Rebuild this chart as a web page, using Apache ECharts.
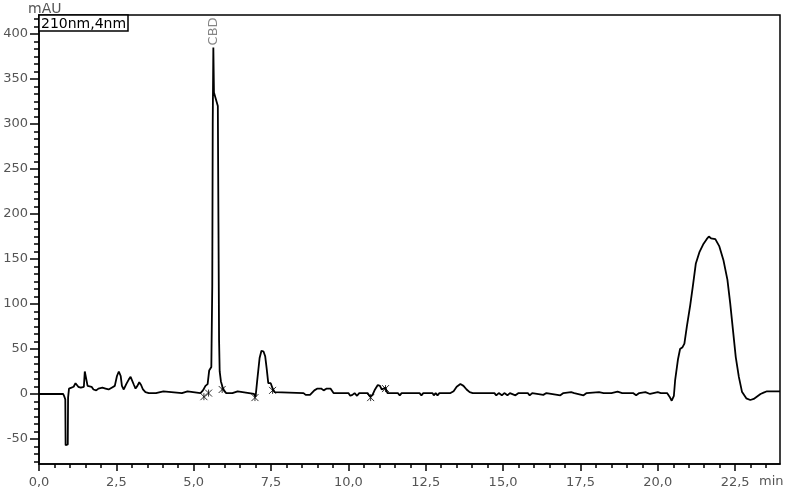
<!DOCTYPE html>
<html><head><meta charset="utf-8">
<script src="https://cdn.jsdelivr.net/npm/echarts@6/dist/echarts.min.js"></script>
<style>html,body{margin:0;padding:0;background:#fff}#c{width:785px;height:493px}</style>
</head><body><div id="c"></div>
<script>
// retention time (min)
const timeMin = [0,0.78,0.82,0.85,0.86,0.90,0.93,0.94,0.97,1.05,1.12,1.18,1.22,1.27,1.35,1.45,1.48,1.54,1.57,1.63,1.70,1.76,1.85,1.92,1.98,2.05,2.15,2.25,2.35,2.45,2.52,2.58,2.64,2.68,2.74,2.82,2.90,2.96,3.02,3.07,3.12,3.18,3.24,3.30,3.36,3.44,3.55,3.78,3.84,4.02,4.06,4.62,4.68,4.80,4.85,5.22,5.30,5.38,5.45,5.50,5.57,5.60,5.615,5.635,5.655,5.78,5.80,5.82,5.84,5.88,5.93,5.98,6.05,6.25,6.30,6.42,6.47,6.95,7.00,7.05,7.13,7.19,7.26,7.31,7.36,7.41,7.49,7.55,7.62,7.68,8.55,8.62,8.68,8.76,8.82,8.90,9.00,9.12,9.20,9.30,9.42,9.52,10.00,10.06,10.13,10.20,10.28,10.35,10.62,10.70,10.78,10.86,10.95,11.02,11.08,11.13,11.20,11.26,11.60,11.66,11.72,12.30,12.36,12.42,12.72,12.76,12.82,12.88,12.94,13.30,13.40,13.50,13.62,13.72,13.82,13.92,14.02,14.72,14.78,14.86,14.96,15.04,15.14,15.22,15.40,15.50,15.80,15.86,15.94,16.30,16.40,16.85,16.95,17.20,17.30,17.60,17.70,18.10,18.25,18.50,18.70,18.85,19.20,19.30,19.40,19.60,19.75,20.00,20.10,20.30,20.38,20.45,20.52,20.56,20.65,20.72,20.80,20.86,20.94,21.05,21.13,21.23,21.35,21.48,21.58,21.65,21.72,21.78,21.86,21.99,22.12,22.25,22.34,22.43,22.52,22.62,22.72,22.86,22.99,23.10,23.20,23.32,23.42,23.53,23.95];
// detector signal (mAU)
const signalMAU = [0,0,-3,-6,-57,-58,-56,-4,6,7,8,12,13,8,7,8,25,27,9,7,8,5,4,6,4,7,6,5,7,9,20,25,20,9,5,11,16,19,17,10,6,9,13,10,5,2,1,1,3,3,1,1,3,3,1,1,4,9,11,26,30,120,300,385,335,320,190,60,25,14,8,4,1,1,3,3,1,0,-3,14,40,48,47,42,28,12,12,6,2,1,1,-1,1,-1,1,4,6,6,4,6,6,1,1,-2,-1,1,-2,1,1,-3,-1,5,10,9,5,7,7,1,1,-1.5,1,1,-1.5,1,1,-1.5,1,-1.5,1,1,3,8,11,9,5,2,1,1,-1.5,1,-1.5,1,-1.5,1,-1.5,1,1,-1.5,1,-1,1,-1.5,1,2,1,-1.5,1,2,1,1,2.5,1,1,-1.5,1,2,0,2,1,1,-3,-7.5,-2,15,38,50,52,56,75,99,119,145,158,167,172,175,173,175,172,164,149,127,101,71,41,19,2.6,-4.8,-6.7,-5.5,-3,0,1.5,3,3];
// integration start/end markers
const markerTimes = [5.33, 5.48, 5.92, 6.98, 7.55, 10.72, 11.20];
const markerValues = [-3, 1, 5, -4, 4, -4, 6];
const xTickValues = [0,2.5,5,7.5,10,12.5,15,17.5,20,22.5];
const yTickValues = [-50,0,50,100,150,200,250,300,350,400];
const peakNames = ['CBD'];
const peakTimes = [5.635];
const peakHeights = [385];
const channelLabel = '210nm,4nm';
const yUnit = 'mAU';
const xUnit = 'min';

const xMinor = []; for (let i = 0; i <= 47; i++) xMinor.push(i * 0.5);
const yMinor = []; for (let i = -9; i <= 50; i++) yMinor.push(i * 50 / 6);

const lineData = timeMin.map((t, i) => [t, signalMAU[i]]);
const FONT = 'DejaVu Sans';
const X_MIN = 0, X_MAX = 23.95, Y_MIN = -77.8, Y_MAX = 421.1;

const chart = echarts.init(document.getElementById('c'), null, {renderer: 'canvas'});
const axisLineStyle = {show: true, onZero: false, lineStyle: {color: '#000', width: 1.5}};
chart.setOption({
  animation: false,
  backgroundColor: '#fff',
  grid: {left: 39, right: 5, top: 15, bottom: 29, show: true, borderColor: '#000', borderWidth: 1.5, containLabel: false},
  xAxis: [
    {type: 'value', min: X_MIN, max: X_MAX, position: 'bottom',
     axisLine: axisLineStyle, splitLine: {show: false},
     axisTick: {show: true, customValues: xTickValues, length: 7, lineStyle: {color: '#000', width: 1.5}},
     axisLabel: {show: true, customValues: xTickValues, margin: 12, color: '#555', fontFamily: FONT, fontSize: 13,
       formatter: v => v.toFixed(1).replace('.', ',')}},
    {type: 'value', min: X_MIN, max: X_MAX, position: 'bottom', offset: 0,
     axisLine: {show: false, onZero: false}, splitLine: {show: false}, axisLabel: {show: false},
     axisTick: {show: true, customValues: xMinor, length: 4, lineStyle: {color: '#000', width: 1.5}}}
  ],
  yAxis: [
    {type: 'value', min: Y_MIN, max: Y_MAX, position: 'left',
     axisLine: axisLineStyle, splitLine: {show: false},
     axisTick: {show: true, customValues: yTickValues, length: 9, lineStyle: {color: '#000', width: 1.5}},
     axisLabel: {show: true, customValues: yTickValues, margin: 11, color: '#555', fontFamily: FONT, fontSize: 13}},
    {type: 'value', min: Y_MIN, max: Y_MAX, position: 'left', offset: 0,
     axisLine: {show: false, onZero: false}, splitLine: {show: false}, axisLabel: {show: false},
     axisTick: {show: true, customValues: yMinor, length: 5, lineStyle: {color: '#000', width: 1.5}}}
  ],
  series: [
    {type: 'line', data: lineData, xAxisIndex: 0, yAxisIndex: 0, showSymbol: false, symbol: 'none',
     lineStyle: {color: '#000', width: 1.8}, clip: true, z: 3},
    {type: 'scatter', xAxisIndex: 0, yAxisIndex: 0, symbol: 'path://M0,0L10,10M10,0L0,10M5,0L5,10', symbolSize: 7,
     data: markerTimes.map((t, i) => [t, markerValues[i]]),
     itemStyle: {color: 'none', borderColor: '#000', borderWidth: 1}, z: 4},
    {type: 'scatter', xAxisIndex: 0, yAxisIndex: 0, symbolSize: 0.1,
     data: peakTimes.map((t, i) => ({value: [t, peakHeights[i]], name: peakNames[i]})),
     label: {show: true, position: 'top', distance: 2, rotate: 90, align: 'left', verticalAlign: 'middle',
       formatter: p => p.name, color: '#666', fontFamily: FONT, fontSize: 13},
     itemStyle: {color: 'transparent'}, z: 4}
  ],
  graphic: [
    {type: 'text', left: 28, top: 2, style: {text: yUnit, font: '14px "DejaVu Sans"', fill: '#555'}},
    {type: 'text', left: 759, top: 475, style: {text: xUnit, font: '13px "DejaVu Sans"', fill: '#555'}},
    {type: 'rect', shape: {x: 39, y: 15, width: 89, height: 16}, style: {fill: '#fff', stroke: '#000', lineWidth: 1.5}, z: 10},
    {type: 'text', x: 41, y: 24, style: {text: channelLabel, font: '14px "DejaVu Sans"', fill: '#000', verticalAlign: 'middle'}, z: 11}
  ]
});
</script></body></html>
